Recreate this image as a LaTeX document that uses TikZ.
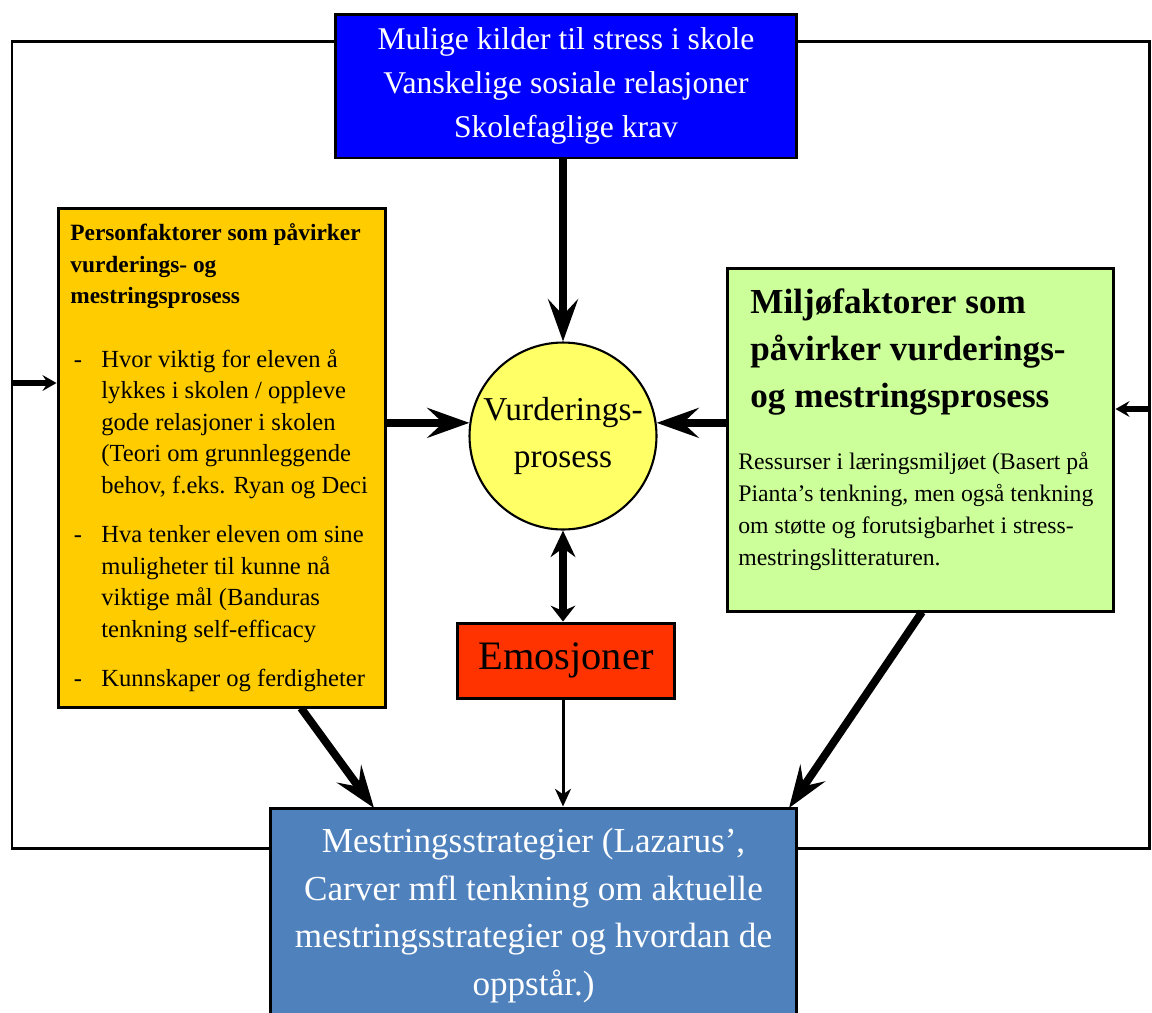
\documentclass[tikz,border=0pt]{standalone}
\usepackage{fontspec}
\setmainfont{Liberation Serif}
\usetikzlibrary{arrows.meta}
\definecolor{kildeblaa}{HTML}{0000FF}
\definecolor{persgul}{HTML}{FFCC00}
\definecolor{miljgronn}{HTML}{CCFF99}
\definecolor{vurdgul}{HTML}{FFFF66}
\definecolor{emorod}{HTML}{FF3300}
\definecolor{mestblaa}{HTML}{4F81BD}

\begin{document}
\begin{tikzpicture}[x=0.02cm,y=-0.02cm,
    box/.style={draw=black, line width=1.7pt, inner sep=0pt, align=center},
    ramme/.style={line width=1.7pt},
    tykkpil/.style={line width=4.5pt, -{Stealth[length=24pt,width=17pt,inset=9pt]}},
    dobbelpil/.style={line width=4.5pt, {Stealth[length=9pt,width=14pt,inset=3pt]}-{Stealth[length=15pt,width=14pt,inset=5pt]}},
    tynnpil/.style={line width=1.7pt, -{Stealth[length=10pt,width=9pt,inset=3pt]}},
    rammepil/.style={line width=3pt, -{Stealth[length=8pt,width=9pt,inset=3pt]}}]
  \useasboundingbox (0,0) rectangle (1152,1012);

  % boksene
  \node[box, fill=kildeblaa, text=white, minimum width=9.24cm, minimum height=2.88cm,
        font=\fontsize{18}{25}\selectfont] (kilder) at (566,86)
        {Mulige kilder til stress i skole\\Vanskelige sosiale relasjoner\\Skolefaglige krav};
  \node[box, fill=persgul, minimum width=6.56cm, minimum height=10cm] (pers) at (222,458) {};
  \node[box, fill=miljgronn, minimum width=7.74cm, minimum height=6.88cm] (milj) at (920.5,440) {};
  \node[box, circle, fill=vurdgul, line width=1.2pt, minimum size=3.74cm,
        font=\fontsize{19}{27}\selectfont] (vurd) at (563,436) {Vurderings-\\prosess};
  \node[box, fill=emorod, minimum width=4.36cm, minimum height=1.5cm,
        font=\fontsize{23}{27}\selectfont] (emo) at (566,660.5) {Emosjoner};
  \node[box, fill=mestblaa, text=white, minimum width=10.54cm, minimum height=4.3cm,
        font=\fontsize{20}{27}\selectfont] (mest) at (533.5,915.5)
        {Mestringsstrategier (Lazarus’,\\Carver mfl tenkning om aktuelle\\mestringsstrategier og hvordan de\\oppstår.)};

  % tekst i boksene
  \node[anchor=north west, inner sep=0pt, font=\fontsize{14}{18}\selectfont] (perstekst) at (70,218) {%
    \begin{tabular}{@{\hspace{2pt}}l@{\hspace{11pt}}l@{}}
      \multicolumn{2}{@{}l}{\bfseries\fontsize{13.3}{18}\selectfont Personfaktorer som påvirker}\\
      \multicolumn{2}{@{}l}{\bfseries\fontsize{13.3}{18}\selectfont vurderings- og}\\
      \multicolumn{2}{@{}l}{\bfseries\fontsize{13.3}{18}\selectfont mestringsprosess}\\[18pt]
      - & Hvor viktig for eleven å\\
        & lykkes i skolen / oppleve\\
        & gode relasjoner i skolen\\
        & (Teori om grunnleggende\\
        & behov, f.eks. Ryan og Deci\\[10pt]
      - & Hva tenker eleven om sine\\
        & muligheter til kunne nå\\
        & viktige mål (Banduras\\
        & tenkning self-efficacy\\[10pt]
      - & Kunnskaper og ferdigheter
    \end{tabular}};
  \node[anchor=north west, inner sep=0pt, align=left,
        font=\bfseries\fontsize{20}{27}\selectfont] (miljtittel) at (750,288)
        {Miljøfaktorer som\\påvirker vurderings-\\og mestringsprosess};
  \node[anchor=north west, inner sep=0pt, align=left,
        font=\fontsize{13.5}{18.2}\selectfont] (miljtekst) at (738,452)
        {Ressurser i læringsmiljøet (Basert på\\Pianta’s tenkning, men også tenkning\\om støtte og forutsigbarhet i stress-\\mestringslitteraturen.};

  % rammen rundt
  \coordinate (ov) at (12,41);
  \coordinate (nv) at (12,848);
  \coordinate (oh) at (1149,41);
  \coordinate (nh) at (1149,848);
  \draw[ramme] (kilder.west |- ov) -- (ov) -- (nv) -- (nv -| mest.west);
  \draw[ramme] (kilder.east |- oh) -- (oh) -- (nh) -- (nh -| mest.east);
  \coordinate (vinn) at (12,383);
  \coordinate (hinn) at (1149,409);
  \draw[rammepil] (vinn) -- (vinn -| pers.west);
  \draw[rammepil] (hinn) -- (hinn -| milj.east);

  % pilene
  \draw[tykkpil] (vurd.north |- kilder.south) -- (vurd.north);
  \draw[tykkpil] (pers.east |- vurd.172) -- (vurd.172);
  \draw[tykkpil] (milj.west |- vurd.8) -- (vurd.8);
  \draw[dobbelpil] (emo.north -| vurd.south) -- (vurd.south);
  \draw[tynnpil] (emo.south -| vurd.south) -- (mest.north -| vurd.south);
  \draw[tykkpil] (301,708) -- (374,808);
  \draw[tykkpil] (922,612) -- (789,808);
\end{tikzpicture}
\end{document}
